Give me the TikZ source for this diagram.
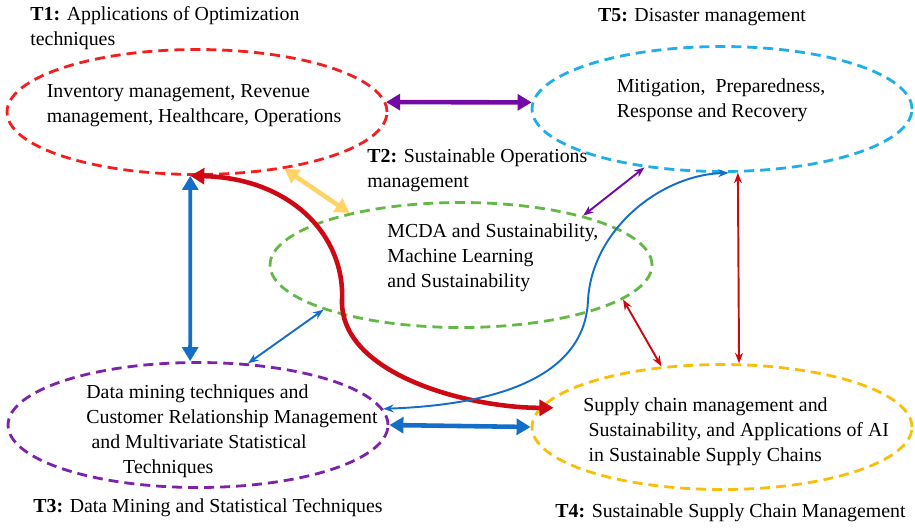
\documentclass[tikz,border=0pt]{standalone}
\usepackage{fontspec}
\setmainfont{Liberation Serif}
\usepackage{tikz}
\usetikzlibrary{shapes, arrows.meta, positioning, calc}
\definecolor{tonered}{RGB}{245, 30, 30}
\definecolor{tfiveblue}{RGB}{30, 175, 235}
\definecolor{ttwogreen}{RGB}{100, 185, 70}
\definecolor{tthreepurple}{RGB}{125, 35, 170}
\definecolor{tfouryellow}{RGB}{250, 190, 10}
\definecolor{linkpurple}{RGB}{115, 10, 165}
\definecolor{linkyellow}{RGB}{255, 212, 100}
\definecolor{linkblue}{RGB}{20, 110, 200}
\definecolor{linkred}{RGB}{205, 10, 20}

\begin{document}
\begin{tikzpicture}[x=0.02cm, y=-0.02cm,
  font=\fontsize{11.3}{14.2}\selectfont,
  topic/.style={ellipse, line width=1.6pt, dash pattern=on 5.7pt off 3.4pt, minimum width=7.6cm, minimum height=2.5cm},
  txt/.style={inner sep=0pt, align=left},
  biglink/.style={<->, >={Triangle[length=8pt, width=9pt]}, line width=2.6pt},
  thinlink/.style={<->, >={Stealth[length=6pt, width=4.5pt]}, line width=1.1pt}
]
  \useasboundingbox (0,0) rectangle (915,528);

  % Topics
  \node[topic, draw=tonered] (t1) at (197,112) {};
  \node[topic, draw=tfiveblue] (t5) at (722,109) {};
  \node[topic, draw=ttwogreen, minimum width=7.64cm] (t2) at (461,265) {};
  \node[topic, draw=tthreepurple] (t3) at (198,425) {};
  \node[topic, draw=tfouryellow] (t4) at (722,427) {};

  \node[txt] (t1text) at (194,106) {Inventory management, Revenue\\management, Healthcare, Operations};
  \node[txt] (t5text) at (721,100) {Mitigation, \ Preparedness,\\Response and Recovery};
  \node[txt, anchor=west] (t2text) at (387,258) {MCDA and Sustainability,\\Machine Learning\\and Sustainability};
  \node[txt, anchor=west] (t3text) at (86,431) {Data mining techniques and\\Customer Relationship Management\\\hspace*{3pt}and Multivariate Statistical\\\hspace*{21pt}Techniques};
  \node[txt, anchor=west] (t4text) at (583,432) {Supply chain management and\\\hspace*{3pt}Sustainability, and Applications of AI\\\hspace*{3pt}in Sustainable Supply Chains};

  % Titles
  \node[txt, anchor=west] (t1lbl) at (30,28) {\textbf{T1:} Applications of Optimization\\techniques};
  \node[txt] (t5lbl) at (702,17) {\textbf{T5:} Disaster management};
  \node[txt, anchor=west] (t2lbl) at (367,170) {\textbf{T2:} Sustainable Operations\\management};
  \node[txt, anchor=west] (t3lbl) at (33,508) {\textbf{T3:} Data Mining and Statistical Techniques};
  \node[txt, anchor=west] (t4lbl) at (555,513) {\textbf{T4:} Sustainable Supply Chain Management};

  % Links
  \coordinate (redmid) at (342,300);
  \coordinate (bluemid) at (588,300);
  \draw[biglink, linkpurple] (t1.3) -- (t5.178);
  \draw[biglink, linkyellow] (t1.-33) -- (t2.155);
  \draw[biglink, linkblue, line width=2.2pt] (t1.-96) -- (t3.97);
  \draw[biglink, linkblue] (t3.east) -- (t4.west);
  \draw[biglink, linkred, shorten >=-8pt] (t1.-96) .. controls (290,178) and (345,235) .. (redmid)
    .. controls (340,375) and (470,408) .. (t4.174);
  \draw[thinlink, linkblue] (t5.-84) .. controls (660,175) and (592,230) .. (bluemid)
    .. controls (585,380) and (490,405) .. (t3.5);
  \draw[thinlink, linkblue] (t3.51) -- (t2.198);
  \draw[thinlink, linkpurple] (t2.22) -- (t5.217);
  \draw[thinlink, linkred] (t2.-12) -- (t4.135);
  \draw[thinlink, linkred] (t5.-76) -- (t4.75);
\end{tikzpicture}
\end{document}
